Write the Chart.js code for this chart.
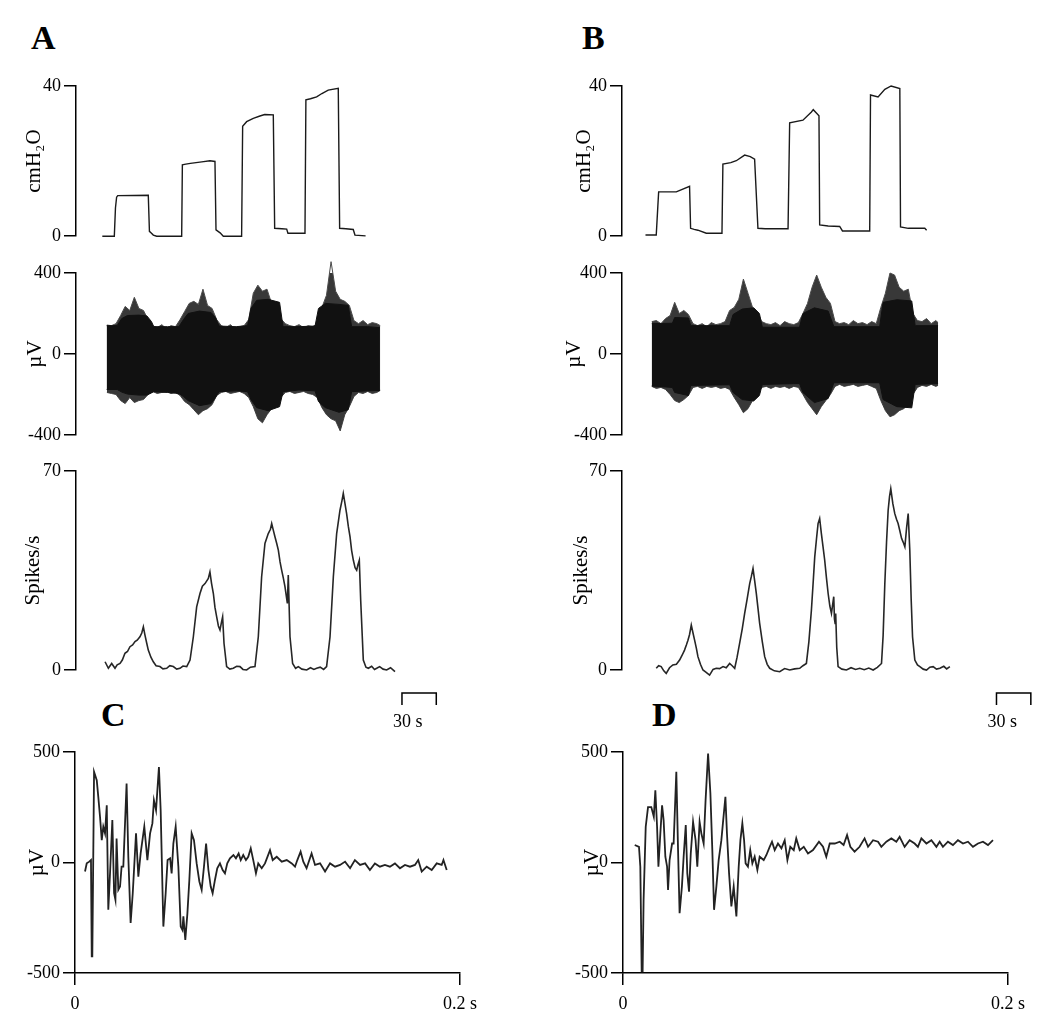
<!DOCTYPE html>
<html><head><meta charset="utf-8">
<script src="https://cdn.jsdelivr.net/npm/chart.js@4.4.0/dist/chart.umd.min.js"></script>
<style>
body{margin:0;background:#fff;}
#fig{position:relative;width:1050px;height:1026px;overflow:hidden;font-family:'Liberation Serif','Times New Roman',serif;background:#fff;}
canvas{position:absolute;}
.lbl{position:absolute;font-weight:bold;font-size:34px;line-height:1;color:#000;}
</style></head>
<body><div id="fig">
<div class="lbl" style="left:31px;top:21px">A</div>
<div class="lbl" style="left:582px;top:21px">B</div>
<div class="lbl" style="left:101px;top:698px">C</div>
<div class="lbl" style="left:652px;top:698px">D</div>
<canvas id="cA1" width="460" height="190" style="left:0;top:60px;width:460px;height:190px"></canvas>
<canvas id="cA2" width="460" height="200" style="left:0;top:250px;width:460px;height:200px"></canvas>
<canvas id="cA3" width="460" height="285" style="left:0;top:455px;width:460px;height:285px"></canvas>
<canvas id="cB1" width="504" height="190" style="left:546px;top:60px;width:504px;height:190px"></canvas>
<canvas id="cB2" width="504" height="200" style="left:546px;top:250px;width:504px;height:200px"></canvas>
<canvas id="cB3" width="504" height="285" style="left:546px;top:455px;width:504px;height:285px"></canvas>
<canvas id="cC" width="500" height="291" style="left:0;top:735px;width:500px;height:291px"></canvas>
<canvas id="cD" width="502" height="291" style="left:548px;top:735px;width:502px;height:291px"></canvas>
</div>
<script>
// ---------- DATA ----------
// Airway pressure (cmH2O) vs time (s)
const pressTimeA = [23,33.5,34.5,35.5,36.5,63.2,64.2,66,67.6,70.5,92.4,93,96,100,110,117.1,121.5,122.4,126,128.8,144.8,145.7,149.2,155,160.8,165,172.5,173.7,180,184.2,185.3,200.2,201,205,210.4,215,220.5,229.3,230.5,236,242.4,243.9,253.2];
const pressValA  = [0,0,7.5,10.4,10.8,10.9,1.3,0.8,0.3,0,0,19.0,19.2,19.4,19.8,20.1,19.9,1.7,0.9,0,0,29.3,30.5,31.4,32.0,32.4,32.3,2.1,2.0,1.9,0.8,0.8,36.3,36.6,37.1,38.0,38.9,39.4,2.1,2.0,1.8,0.3,0.1];
const pressTimeB = [20.5,29.9,31.3,32,47.4,59,59.9,63,66.3,73.6,87.3,88.1,95,99.8,107.1,112,115.8,118.7,125,145,146.4,158,165.4,167,172,172.6,180,190.1,192.5,216.3,217,223.6,229.5,235,242.6,243.2,250,264.4,266];
const pressValB  = [0.3,0.3,8,11.8,11.8,13.3,2.1,1.8,1.6,0.8,0.8,19.2,19.6,20.1,21.6,21.2,20.5,2.1,2.0,2.0,30.2,30.9,33.1,33.7,32.1,3.0,2.7,2.6,1.4,1.4,37.6,37.1,39.1,40,39.3,2.5,2.1,2.1,1.6];

// Raw neurogram (µV) vs time (s): outer fringe (spike tips) and solid core
const fringeTimeA = [27,31,35,39,43,47,51,55,59,63,67,71,75,79,83,87,91,95,99,103,107,111,115,119,123,127,131,135,139,143,147,151,155,159,163,167,171,175,179,183,187,191,195,199,203,207,211,215,219,223,227,231,235,239,243,247,251,255,259,263,266];
const fringeUpA = [143,140,150,190,235,215,280,225,215,170, 140,130,145,125,140,135,170,210,250,260, 245,320,240,225,170,140,130,145,125,135, 140,170,300,340,310,320,250,225,175,150, 140,135,145,130,140,135,150,230,290,456, 310,270,260,240,165,150,165,145,155,150, 140];
const fringeLoA = [-190,-195,-200,-230,-245,-215,-240,-230,-225,-200, -185,-195,-190,-185,-195,-190,-205,-235,-250,-275, -300,-280,-270,-250,-205,-190,-185,-195,-190,-185, -195,-215,-260,-320,-340,-300,-270,-230,-215,-190, -185,-195,-190,-185,-195,-200,-215,-265,-300,-320, -330,-380,-300,-260,-210,-190,-195,-185,-195,-190, -180];
const coreTimeA = [26.8,36,40,45,55,62,66,68,80,90,94,98,108,118,122,125,140,150,153,158,168,178,181,195,209,212,218,230,238,241,255,265.7];
const coreUpA   = [140,140,175,190,192,188,160,135,135,135,170,200,212,205,180,138,135,140,225,265,270,255,135,135,138,225,250,245,240,135,135,130];
const coreLoA   = [-175,-175,-188,-198,-203,-203,-192,-186,-190,-195,-210,-230,-255,-245,-215,-186,-182,-186,-225,-265,-280,-260,-186,-178,-182,-235,-265,-288,-275,-186,-182,-180];

const fringeTimeB = [26,30,34,38,42,46,50,54,58,62,66,70,74,78,82,86,90,94,98,102,106,110,114,118,122,126,130,134,138,142,146,150,154,158,162,166,170,174,178,182,186,190,194,198,202,206,210,214,218,222,226,230,234,238,242,246,250,254,258,262,266,270,274,276];
const fringeUpB = [160,165,150,175,190,255,200,215,195,150, 140,150,135,155,145,150,160,215,230,270, 370,300,230,210,160,150,145,155,140,160, 150,145,155,200,250,330,390,330,280,250, 160,150,155,145,165,150,155,145,160,150, 230,300,400,390,330,310,320,200,165,160, 175,150,165,155];
const fringeLoB = [-160,-170,-165,-175,-200,-230,-240,-225,-205,-165, -160,-170,-160,-165,-160,-170,-165,-175,-215,-250, -290,-270,-230,-200,-165,-160,-170,-160,-165,-160, -170,-160,-165,-200,-240,-270,-300,-260,-230,-200, -160,-150,-160,-155,-150,-160,-155,-150,-160,-170, -230,-280,-310,-300,-280,-270,-250,-200,-165,-155, -160,-150,-160,-155];
const coreTimeB = [26,44,46,58,60,94,97,105,115,120,122.5,155,158,168,180,185,225,228,240,253,256,276];
const coreUpB   = [150,152,180,178,140,140,195,222,228,200,132,132,200,228,212,135,135,255,268,262,140,140];
const coreLoB   = [-158,-165,-190,-205,-155,-152,-190,-225,-232,-205,-150,-146,-190,-240,-220,-142,-142,-225,-260,-266,-150,-146];

// Discharge frequency (spikes/s) vs time (s)
const spikeTimeA = [25.4,28.3,31.2,34.1,36,38.5,40.5,42.8,45,47.2, 49.5,51.6,53.5,55.9,57.5,58.9,60.3,61.8,63.2,65.5, 67.6,70,73.4,76,79.3,82,85.1,88,90.9,93.5, 96.8,99.7,102.6,105.5,108.4,110.5,112.8,115.7,117.1,118.5, 120.1,121.5,123.0,124.5,125.9,127.3,128.2,129.4,131.7,134.5, 137.5,140.5,143.4,146,149.2,152.5,156.5,159.4,162.3,165.2, 168.1,170,171.1,172.5,174.0,175.5,176.9,178.4,179.8,181.2, 182.7,184.8,185.6,187.1,189.4,192,194.4,197.5,201.7,205, 208,210.4,213.5,216.5,219.1,222.1,225.0,227.9,230.8,232.5, 233.7,235,236.6,238.1,239.6,241,242.5,244,245.4,246.5, 247.7,248.9,251.2,253.5,255.6,258.5,261,262.9,265.5,268.5, 271.6,275,278.9];
const spikeValA  = [2.9,0.6,2.3,0.6,1.8,2.3,3.5,5.9,6.5,8.2, 8.8,10.0,10.5,11.7,13.0,15.2,12.3,9.5,7.0,4.5, 2.9,1.5,1.2,0.4,0.6,1.5,1.2,0.3,0.6,1.4, 1.2,3.5,11.7,22.2,26.9,29.5,30.4,32.2,34.5,30.5, 26.9,22,18.7,15.5,14.1,17,18.7,9.4,1.2,0.3, 0.6,1.3,1.2,0.2,0,1.0,1.2,11.7,32.8,44.5, 48.0,49.5,51.5,49.2,46.8,44.5,42.2,38,35.1,32.5, 29.3,23.4,33.4,11.7,2.3,0.6,1.2,0.3,0,0.8, 0.2,0.6,1.0,0.2,1.2,11.7,32.8,48.0,56.2,59.5, 62.1,59,55.0,50.5,46.8,42,38.6,36,35.1,37, 38.6,24.6,3.5,1.0,0.6,1.3,0.2,0.6,1.2,0.3, 0,0.8,-0.6];
const spikeTimeB = [29.9,32,34.2,36.5,38.6,41.5,44.4,47.5,50.3,52.5, 54.6,56.2,57.6,59,60.5,62,63.4,65,66.3,68.5, 70.7,73.5,76.5,79.5,82.3,85.2,88.2,91,94.0,96.2, 98.4,100.5,102.7,105,107.1,109.3,111.5,113,114.4,115.8, 117.3,118.8,120.2,122.5,124.6,126.8,129.0,133,137.7,142, 146.4,150.8,155.2,158,161.0,163.2,165.4,166.8,168.3,169.8, 171.2,172.6,174.1,175.5,177.0,178.5,180.0,181.5,182.9,184.9, 185.5,186.1,186.6,187.5,188.7,192,196.0,200,204,207.6, 211.5,215.5,219.3,223,226.6,228,229.5,231,232.4,233.6, 234.7,236.5,238.2,239.7,241.1,242.6,244.1,245.5,247.0,248.5, 249.9,251.3,252.5,253.7,255.7,258,260.1,263,265.9,268.8, 271.7,274.6,277.6,281,283.5,286.3];
const spikeValB  = [0.6,1.5,1.2,-0.3,-1.2,0.8,1.8,2.0,3.5,5.2, 7.0,8.8,10.5,12.5,15.8,13,10.5,7.5,4.7,2.0, 0,-0.8,-1.8,0.2,0.6,0.5,1.2,0.8,2.3,1.5, 0.6,4.5,9.4,14.5,19.9,25,30.4,33,35.7,31.5, 26.9,21.5,16.4,10,4.7,2,0.6,-0.3,-0.6,0.5, 0,0.4,0.6,1.5,2.3,10,21.1,30,39.8,46, 51.5,53.3,48.0,43.5,38.6,32.5,26.9,22.5,19.9,25.8, 18,16.4,19.9,8,1.2,0.3,0,0.8,0.2,0.6, 0.1,0.7,0,0.9,2.3,12,30.4,45,56.2,61, 63.8,58.5,55.0,53,51.5,49,46.3,45,43.3,50, 55.0,42.2,25,11.7,3.5,1.8,1.2,0.3,0,1.0, 1.2,0.3,0.6,1.3,0.4,1.2];

// Evoked compound potential (µV) vs time (ms)
const evokedTimeC = [5.2,6.1,7.4,8.3,8.7,9.0,9.9,11.3,12.1,13.0, 13.9,14.7,15.6,16.5,17.3,18.2,19.4,20.3,21.0,21.6, 22.5,23.4,24.2,25.1,26.8,27.7,28.9,30.0,31.7,32.9, 34.1,36.0,37.6,39.0,40.2,41.0,42.1,43.6,44.5,45.9, 47.1,48.1,49.4,50.2,51.1,52.3,53.7,54.9,55.8,56.3, 57.3,58.4,59.4,60.6,61.8,63.2,64.6,65.8,67.0,68.1, 69.3,70.5,71.5,72.7,73.9,75.3,76.7,77.9,79.1,80.5, 82.3,83.6,85.0,86.1,87.4,88.8,90.0,91.3,92.6,94.0, 95.2,97.0,98.7,101.3,102.7,104.8,107.4,110.0,112.6,114.3, 115.5,117.2,118.6,120.3,122.9,124.7,127.3,129.9,132.5,135.1, 137.7,140.3,142.9,145.4,148.1,150.7,153.2,155.8,158.4,161.0, 163.6,166.2,168.8,171.4,174.0,176.6,178.3,180.1,182.7,185.3, 187.9,190.5,191.4,193.1];
const evokedValC  = [-41,-4,4,11,-425,-425,410,372,297,207, 101,162,132,259,-214,-49,192,-139,-169,109, -124,-109,-19,-19,357,26,-274,-139,132,-64, 41,162,11,132,177,282,237,432,237,-290, -139,11,19,-49,86,162,-19,-290,-305,-244, -350,-229,-79,132,101,-4,-86,-124,-19,86, -34,-109,-139,-79,-26,-4,-34,-49,-4,19, 34,19,41,11,34,11,26,64,11,-49, -4,-26,-4,56,11,26,4,11,-4,-19, 11,49,4,-26,41,-11,-4,-41,-4,-19, -11,4,-26,11,-11,-4,-34,-4,-19,-11, -19,-4,-26,-11,-19,-11,11,-41,-19,-34, -4,-11,11,-34];
const evokedTimeD = [6.1,8.3,9.0,9.7,10.2,10.7,11.8,13.0,14.7,16.0, 16.8,17.7,18.4,19.4,20.3,21.1,22.0,22.9,23.4,24.2, 25.5,26.3,27.7,28.6,29.4,30.6,31.5,32.6,33.4,34.3, 35.2,36.4,37.7,38.6,39.8,40.7,41.9,42.9,44.2,45.4, 46.4,47.3,48.5,49.7,51.1,51.9,53.2,54.0,55.1,56.3, 57.5,58.9,60.1,61.0,62.0,62.9,63.7,64.9,66.1,67.2, 68.4,69.8,71.0,73.1,74.5,76.2,77.4,78.8,80.5,82.3, 84.0,85.4,86.9,88.7,90.0,91.8,93.9,96.1,98.7,101.8, 103.9,105.6,107.4,110.0,112.6,114.6,116.4,118.1,120.3,122.9, 125.5,127.3,129.9,132.5,134.2,136.8,139.4,142.0,143.7,146.3, 148.9,151.5,153.2,155.0,157.6,160.2,162.8,164.5,166.2,168.8, 171.4,174.0,176.6,179.2,181.8,184.4,187.0,189.6,192.2];
const evokedValD  = [79,71,-19,-493,-493,-169,162,251,251,207, 327,162,-19,132,259,192,26,-19,-124,11, 86,86,410,56,-229,-109,26,169,-49,-132, 41,184,101,-19,184,132,86,282,493,312, 56,-214,-109,11,101,177,297,132,-49,-199, -109,-244,-19,101,177,101,-4,-19,56,-4, 26,-34,26,11,34,71,94,56,86,64, 101,11,71,56,109,56,71,41,56,94, 71,26,86,86,94,79,124,71,49,71, 109,71,101,94,71,94,109,94,116,71, 101,86,71,109,86,101,71,94,71,94, 79,101,86,94,71,86,94,79,101];

// Scale bars (s)
const scaleBarA = {from: 285, len: 30, label: '30 s'};
const scaleBarB = {from: 327, len: 30, label: '30 s'};

// ---------- CHARTS ----------
const FONT = "'Liberation Serif','Times New Roman',serif";
Chart.defaults.font.family = FONT;
Chart.defaults.color = '#000';
Chart.defaults.animation = false;

const pts = (xs, ys) => xs.map((x, i) => ({x, y: ys[i]}));

const scaleBarPlugin = {
  id: 'scaleBar',
  afterDraw(chart, args, opts) {
    if (!opts || opts.len == null) return;
    const {ctx, chartArea} = chart;
    const xs = chart.scales.x;
    const x1 = xs.getPixelForValue(opts.from), x2 = xs.getPixelForValue(opts.from + opts.len);
    const y = chartArea.bottom + 23;
    ctx.save();
    ctx.strokeStyle = '#000'; ctx.lineWidth = 1.5;
    ctx.beginPath(); ctx.moveTo(x1, y + 12); ctx.lineTo(x1, y); ctx.lineTo(x2, y); ctx.lineTo(x2, y + 12); ctx.stroke();
    ctx.font = '18px ' + FONT; ctx.fillStyle = '#000'; ctx.textAlign = 'left'; ctx.textBaseline = 'middle';
    ctx.fillText(opts.label, x1 - 9, y + 29);
    ctx.restore();
  }
};

function yAxis(min, max, step, title, titlePad, width) {
  return {
    type: 'linear', position: 'left', min, max,
    afterFit: s => { s.width = width; },
    ticks: {stepSize: step, font: {size: 18}, color: '#000', padding: 3, autoSkip: false},
    grid: {drawOnChartArea: false, drawTicks: true, tickLength: 12, color: '#000', lineWidth: 1.5},
    border: {display: true, color: '#000', width: 1.5},
    title: {display: true, text: title, font: {size: 21}, color: '#000', padding: {top: titlePad, bottom: 0}}
  };
}
const hiddenX = (max) => ({type: 'linear', min: 0, max, display: false});

function traceChart(id, datasets, xScale, yScale, padding, extraPlugins, pluginOpts) {
  return new Chart(document.getElementById(id), {
    type: 'line',
    data: {datasets},
    options: {
      responsive: false, devicePixelRatio: 1, animation: false,
      layout: {padding},
      plugins: Object.assign({legend: {display: false}, tooltip: {enabled: false}}, pluginOpts || {}),
      scales: {x: xScale, y: yScale},
      elements: {point: {radius: 0}, line: {tension: 0}}
    },
    plugins: extraPlugins || []
  });
}

const lineDs = (data, w, c) => ({data, borderColor: c || '#1a1a1a', borderWidth: w, pointRadius: 0, fill: false, clip: false});
// band: upper edge filled down to the next dataset (lower edge)
const bandUp = (data, fillCol, edgeCol) => ({data, borderColor: edgeCol, borderWidth: 1, backgroundColor: fillCol, fill: '+1', pointRadius: 0, clip: false});
const bandLo = (data, edgeCol) => ({data, borderColor: edgeCol, borderWidth: 1, fill: false, pointRadius: 0, clip: false});
function neuroSets(ct, cu, cl, ft, fu, fl) {
  // index 0/1 (core) are drawn on top of index 2/3 (fringe)
  return [bandUp(pts(ct, cu), '#111', '#111'), bandLo(pts(ct, cl), '#111'),
          bandUp(pts(ft, fu), '#383838', '#4a4a4a'), bandLo(pts(ft, fl), '#4a4a4a')];
}

// Panel A
traceChart('cA1', [lineDs(pts(pressTimeA, pressValA), 1.4)], hiddenX(320), yAxis(0, 40, 40, 'cmH₂O', 22, 76), {top: 26, bottom: 12, left: 0, right: 18});
traceChart('cA2', neuroSets(coreTimeA, coreUpA, coreLoA, fringeTimeA, fringeUpA, fringeLoA), hiddenX(320), yAxis(-400, 400, 400, 'µV', 23, 76), {top: 23, bottom: 15, left: 0, right: 18});
traceChart('cA3', [lineDs(pts(spikeTimeA, spikeValA), 1.6, '#262626')], hiddenX(320), yAxis(0, 70, 70, 'Spikes/s', 21, 76), {top: 16, bottom: 70, left: 0, right: 18}, [scaleBarPlugin], {scaleBar: scaleBarA});

// Panel B
traceChart('cB1', [lineDs(pts(pressTimeB, pressValB), 1.4)], hiddenX(365), yAxis(0, 40, 40, 'cmH₂O', 26, 76), {top: 26, bottom: 12, left: 0, right: 10});
traceChart('cB2', neuroSets(coreTimeB, coreUpB, coreLoB, fringeTimeB, fringeUpB, fringeLoB), hiddenX(365), yAxis(-400, 400, 400, 'µV', 16, 76), {top: 23, bottom: 15, left: 0, right: 10});
traceChart('cB3', [lineDs(pts(spikeTimeB, spikeValB), 1.6, '#262626')], hiddenX(365), yAxis(0, 70, 70, 'Spikes/s', 23, 76), {top: 16, bottom: 70, left: 0, right: 10}, [scaleBarPlugin], {scaleBar: scaleBarB});

// Panels C, D
function timeAxis() {
  return {
    type: 'linear', position: 'bottom', min: 0, max: 200,
    afterFit: s => { s.height = 40; },
    ticks: {stepSize: 200, font: {size: 18}, color: '#000', padding: 8, autoSkip: false, maxRotation: 0,
            callback: v => v === 0 ? '0' : (v === 200 ? '0.2 s' : '')},
    grid: {drawOnChartArea: false, drawTicks: true, tickLength: 12, color: '#000', lineWidth: 1.5},
    border: {display: true, color: '#000', width: 1.5}
  };
}
traceChart('cC', [lineDs(pts(evokedTimeC, evokedValC), 1.8, '#222')], timeAxis(), yAxis(-500, 500, 500, 'µV', 25, 75), {top: 17, bottom: 13, left: 0, right: 40});
traceChart('cD', [lineDs(pts(evokedTimeD, evokedValD), 1.8, '#222')], timeAxis(), yAxis(-500, 500, 500, 'µV', 32, 75), {top: 17, bottom: 13, left: 0, right: 42});
</script>
</body></html>
